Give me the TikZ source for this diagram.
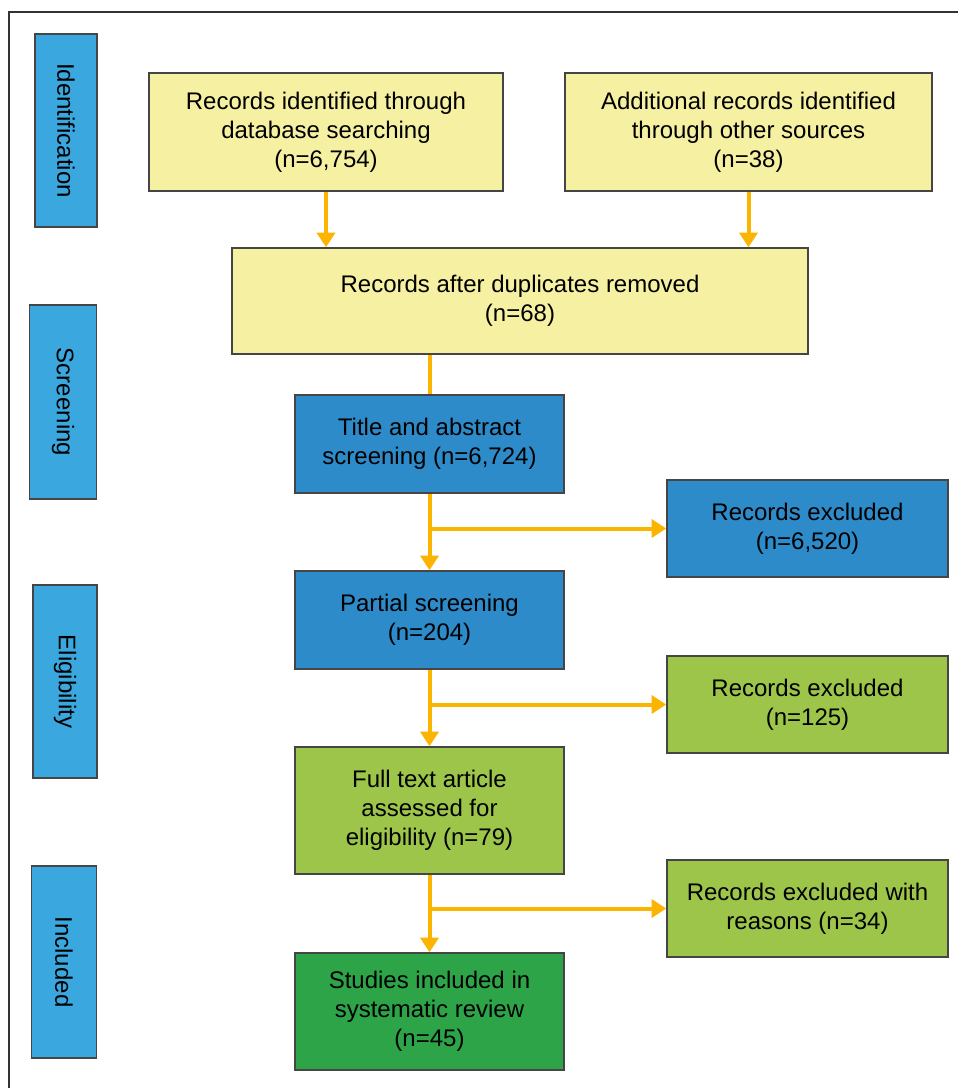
\documentclass[tikz,border=0pt]{standalone}
\usepackage{fontspec}
\setmainfont{Liberation Sans}
\usetikzlibrary{arrows.meta}
\definecolor{ylw}{HTML}{F5F0A2}
\definecolor{mblue}{HTML}{2E8BC9}
\definecolor{sblue}{HTML}{3AA8DF}
\definecolor{lgreen}{HTML}{9CC54A}
\definecolor{dgreen}{HTML}{2EA449}
\definecolor{orng}{HTML}{FBB400}
\definecolor{edge}{HTML}{454545}
\tikzset{
  bx/.style={draw=edge, line width=1.1pt, inner sep=0pt, align=center,
    font=\fontsize{18}{21.75}\selectfont},
  side/.style={bx, fill=sblue, rotate=-90},
  arr/.style={draw=orng, line width=3pt, -{Triangle[width=13.5pt,length=11pt]}},
  ln/.style={draw=orng, line width=3pt},
}
\begin{document}
\begin{tikzpicture}[x=0.75pt,y=-0.75pt]
\useasboundingbox (0,0) rectangle (958,1088);
\draw[line width=1.1pt, black!80] (9,1088) -- (9,12) -- (958,12);
% side labels
\node[side, minimum width=144.75pt, minimum height=46.5pt] (ident) at (66,130.5) {Identification};
\node[side, minimum width=145.5pt, minimum height=50.25pt] (screen) at (63,402) {Screening};
\node[side, minimum width=144.75pt, minimum height=48pt] (elig) at (65,681.5) {Eligibility};
\node[side, minimum width=144pt, minimum height=48.75pt] (incl) at (64,962) {Included};
% main boxes
\node[bx, fill=ylw, minimum width=265.5pt, minimum height=88.5pt] (db) at (326,132)
  {Records identified through\\database searching\\(n=6,754)};
\node[bx, fill=ylw, minimum width=275.25pt, minimum height=88.5pt] (add) at (748.5,132)
  {Additional records identified\\through other sources\\(n=38)};
\node[bx, fill=ylw, minimum width=432pt, minimum height=79.5pt] (dup) at (520,301)
  {Records after duplicates removed\\(n=68)};
\node[bx, fill=mblue, minimum width=201.75pt, minimum height=73.5pt] (title) at (429.5,444)
  {Title and abstract\\screening (n=6,724)};
\node[bx, fill=mblue, minimum width=210.75pt, minimum height=72.75pt] (ex1) at (807.5,528.5)
  {Records excluded\\(n=6,520)};
\node[bx, fill=mblue, minimum width=201.75pt, minimum height=73.5pt] (part) at (429.5,620)
  {Partial screening\\(n=204)};
\node[bx, fill=lgreen, minimum width=210.75pt, minimum height=72.75pt] (ex2) at (807.5,704.5)
  {Records excluded\\(n=125)};
\node[bx, fill=lgreen, minimum width=201.75pt, minimum height=95.25pt] (full) at (429.5,810.5)
  {Full text article\\assessed for\\eligibility (n=79)};
\node[bx, fill=lgreen, minimum width=210.75pt, minimum height=72.75pt] (ex3) at (807.5,908.5)
  {Records excluded with\\reasons (n=34)};
\node[bx, fill=dgreen, minimum width=201.75pt, minimum height=87.75pt] (stud) at (429.5,1011.5)
  {Studies included in\\systematic review\\(n=45)};
% connectors
\draw[arr] (db.south) -- (db.south |- dup.north);
\draw[arr] (add.south) -- (add.south |- dup.north);
\draw[ln] (title.north |- dup.south) -- (title.north);
\draw[arr] (title.south) -- (part.north);
\draw[arr] (title.south |- ex1.west) -- (ex1.west);
\draw[arr] (part.south) -- (full.north);
\draw[arr] (part.south |- ex2.west) -- (ex2.west);
\draw[arr] (full.south) -- (stud.north);
\draw[arr] (full.south |- ex3.west) -- (ex3.west);
\end{tikzpicture}
\end{document}
